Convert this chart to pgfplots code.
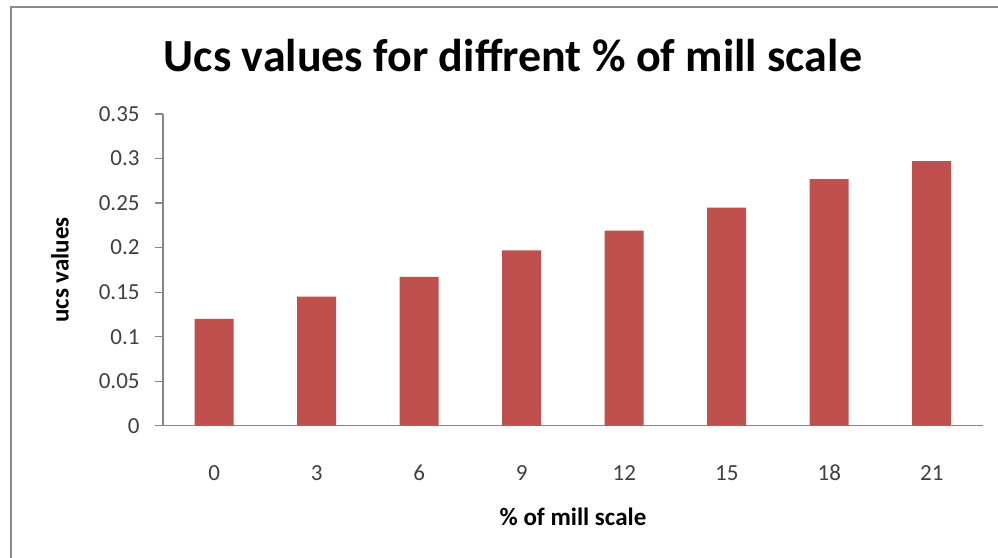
\documentclass[border=0pt]{standalone}
\usepackage{pgfplots}
\pgfplotsset{compat=1.18}
\usepackage{fontspec}
\setmainfont{Carlito}
\definecolor{barred}{HTML}{C0504D}
\definecolor{axgrey}{HTML}{868686}
\definecolor{framegrey}{HTML}{8C8C8C}
\definecolor{ticktext}{HTML}{404040}
\begin{document}
\begin{tikzpicture}
\useasboundingbox (0,0) rectangle (499pt,279pt);
\draw[framegrey, line width=1pt] (5.5pt,0) -- (5.5pt,275.25pt) -- (499pt,275.25pt);
\node[font=\fontsize{23}{27}\selectfont\bfseries, inner sep=0pt] at (256.5pt,251pt) {Ucs values for diffrent \% of mill scale};
\begin{axis}[
  at={(81.5pt,66.15pt)}, anchor=south west,
  scale only axis, width=410pt, height=155.85pt,
  xmin=-0.5, xmax=7.5, ymin=0, ymax=0.35,
  axis x line=bottom, axis y line=left,
  axis line style={-, axgrey, line width=0.6pt},
  xtick=data,
  xticklabels={0,3,6,9,12,15,18,21},
  ytick={0,0.05,0.1,0.15,0.2,0.25,0.3,0.35},
  yticklabels={0,0.05,0.1,0.15,0.2,0.25,0.3,0.35},
  major x tick style={draw=none},
  major y tick style={axgrey, line width=0.6pt},
  tick align=outside, major tick length=4pt,
  ticklabel style={font=\fontsize{11.5}{14}\selectfont, text=ticktext, inner sep=0pt},
  xticklabel style={anchor=base, yshift=-23.6pt},
  yticklabel style={anchor=east, xshift=-7.5pt},
  xlabel={\% of mill scale},
  ylabel={ucs values},
  label style={font=\fontsize{12.5}{14}\selectfont\bfseries, text=black},
  xlabel style={at={(rel axis cs:0.5,-0.293)}, anchor=center},
  ylabel style={at={(rel axis cs:-0.1256,0.5)}, anchor=center, rotate=0},
  ybar, bar width=19.5pt,
  clip=false,
]
\addplot[fill=barred, draw=none] coordinates {
  (0,0.120) (1,0.145) (2,0.167) (3,0.197) (4,0.219) (5,0.245) (6,0.277) (7,0.297)
};
\end{axis}
\end{tikzpicture}
\end{document}
